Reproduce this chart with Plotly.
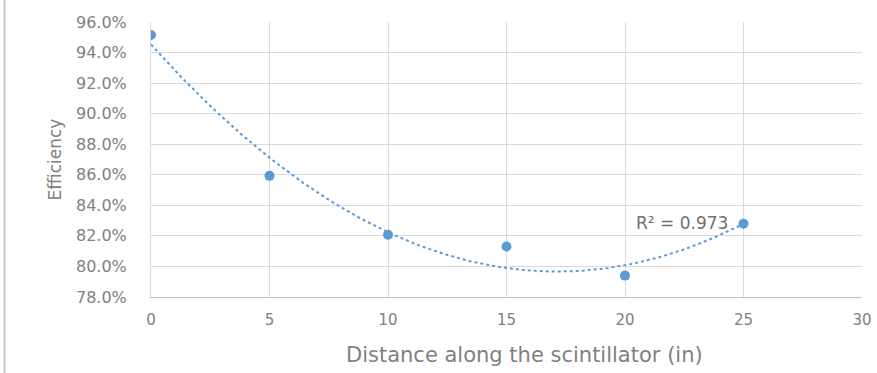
import numpy as np
import plotly.graph_objects as go

distance = [0, 5, 10, 15, 20, 25]
efficiency = [0.9515, 0.8593, 0.8208, 0.8130, 0.7940, 0.8280]
y_ticks = [0.78, 0.80, 0.82, 0.84, 0.86, 0.88, 0.90, 0.92, 0.94, 0.96]
x_ticks = [0, 5, 10, 15, 20, 25, 30]
r2_label = "R² = 0.973"
x_title = "Distance along the scintillator (in)"
y_title = "Efficiency"

blue = "#5B9BD5"
gray_text = "#808080"
FONT = "DejaVu Sans"

# polynomial (order 2) trendline, as computed by the spreadsheet
coef = np.polyfit(distance, efficiency, 2)
xt = np.linspace(min(distance), max(distance), 200)
yt = np.polyval(coef, xt)

fig = go.Figure()
fig.add_trace(go.Scatter(x=xt, y=yt, mode="lines",
                         line=dict(color=blue, width=2, dash="dot"),
                         hoverinfo="skip", showlegend=False))
fig.add_trace(go.Scatter(x=distance, y=efficiency, mode="markers",
                         marker=dict(color=blue, size=10),
                         showlegend=False))

fig.add_annotation(x=20.4, y=0.8285, xref="x", yref="y", text=r2_label,
                   showarrow=False, xanchor="left", yanchor="middle",
                   font=dict(family=FONT, size=17, color="#6f6f6f"))

# x-axis title, placed as in the reference (slightly right of centre)
fig.add_annotation(x=0.526, y=-0.21, xref="paper", yref="paper", text=x_title,
                   showarrow=False, xanchor="center", yanchor="middle",
                   font=dict(family=FONT, size=21, color=gray_text))

# faint frame line at the left edge of the picture
fig.add_shape(type="line", xref="paper", yref="paper",
              x0=-0.206, x1=-0.206, y0=-0.3, y1=1.1,
              line=dict(color="#c8c8c8", width=2))

fig.update_layout(
    width=877, height=373,
    margin=dict(l=151, r=15, t=22, b=76, autoexpand=False),
    paper_bgcolor="white", plot_bgcolor="white",
    font=dict(family=FONT, size=16, color=gray_text),
    xaxis=dict(range=[0, 30], tickvals=x_ticks, showgrid=True,
               gridcolor="#d9d9d9", gridwidth=1, zeroline=False,
               showline=True, linecolor="#bfbfbf", linewidth=1,
               ticks="", ticklabelstandoff=9, automargin=False,
               tickfont=dict(family=FONT, size=15, color=gray_text)),
    yaxis=dict(range=[0.78, 0.96], tickvals=y_ticks, tickformat=".1%",
               showgrid=True, gridcolor="#d9d9d9", gridwidth=1,
               zeroline=False, showline=True, linecolor="#d9d9d9",
               ticks="", ticklabelstandoff=20, automargin=False,
               tickfont=dict(family=FONT, size=16, color=gray_text),
               title=dict(text=y_title,
                          font=dict(family=FONT, size=17, color=gray_text),
                          standoff=10)),
)

fig.write_html("out.html")
